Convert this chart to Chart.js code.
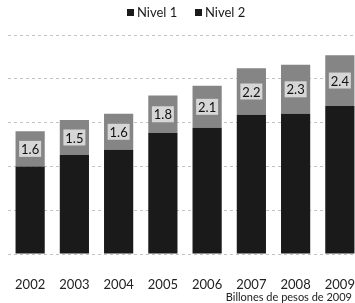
<!DOCTYPE html>
<html>
<head>
<meta charset="utf-8">
<script src="https://cdn.jsdelivr.net/npm/chart.js@4.4.1/dist/chart.umd.min.js"></script>
<style>
  html, body { margin: 0; padding: 0; background: #fff; overflow: hidden; }
  #wrap { width: 370px; height: 303px; }
</style>
</head>
<body>
<div id="wrap"><canvas id="nivelChart" width="370" height="303"></canvas></div>
<script>
const years = ['2002', '2003', '2004', '2005', '2006', '2007', '2008', '2009'];
const nivel1 = [1.0, 1.13, 1.19, 1.38, 1.44, 1.59, 1.6, 1.69];
const nivel2 = [0.4, 0.4, 0.41, 0.43, 0.48, 0.53, 0.56, 0.58];
const totalLabels = ['1.6', '1.5', '1.6', '1.8', '2.1', '2.2', '2.3', '2.4'];
const seriesNames = ['Nivel 1', 'Nivel 2'];

const extras = {
  id: 'extras',
  afterDatasetsDraw(chart) {
    const c = chart.ctx;
    const meta = chart.getDatasetMeta(1);
    c.save();
    c.font = '13px Lato';
    c.textAlign = 'center';
    c.textBaseline = 'middle';
    meta.data.forEach((bar, i) => {
      const cy = (bar.y + bar.base) / 2;
      c.fillStyle = '#d6d6d6';
      c.fillRect(bar.x - 11, cy - 8, 22, 16);
      c.fillStyle = '#111';
      c.fillText(totalLabels[i], bar.x, cy + 1);
    });

    // legend: small black squares, like the printed one
    c.textAlign = 'left';
    c.fillStyle = '#1a1a1a';
    let x = 127;
    seriesNames.forEach((name) => {
      c.fillRect(x, 9, 7, 7);
      c.fillText(name, x + 10, 13);
      x += 68;
    });

    // unit note under the axis
    c.font = '11px Lato';
    c.textAlign = 'right';
    c.fillStyle = '#222';
    c.fillText('Billones de pesos de 2009', 352, 297);
    c.restore();
  }
};

const ctx = document.getElementById('nivelChart').getContext('2d');

new Chart(ctx, {
  type: 'bar',
  data: {
    labels: years,
    datasets: [
      { label: seriesNames[0], data: nivel1, backgroundColor: '#1a1a1a' },
      { label: seriesNames[1], data: nivel2, backgroundColor: '#858585' }
    ]
  },
  options: {
    responsive: false,
    animation: false,
    layout: { padding: { left: 5, right: 4, top: 35, bottom: 0 } },
    datasets: { bar: { categoryPercentage: 1, barPercentage: 0.66 } },
    plugins: {
      tooltip: { enabled: false },
      legend: { display: false }
    },
    scales: {
      x: {
        stacked: true,
        grid: { display: false },
        border: { display: false },
        ticks: { color: '#222', font: { family: 'Lato', size: 13 }, padding: 15 },
        afterFit: (scale) => { scale.height = 49; }
      },
      y: {
        stacked: true,
        min: 0,
        max: 2.5,
        ticks: { display: false, stepSize: 0.5 },
        grid: { color: '#c4c4c4', drawTicks: false },
        border: { display: false, dash: [3, 3] },
        afterFit: (scale) => { scale.width = 0; }
      }
    }
  },
  plugins: [extras]
});
</script>
</body>
</html>
